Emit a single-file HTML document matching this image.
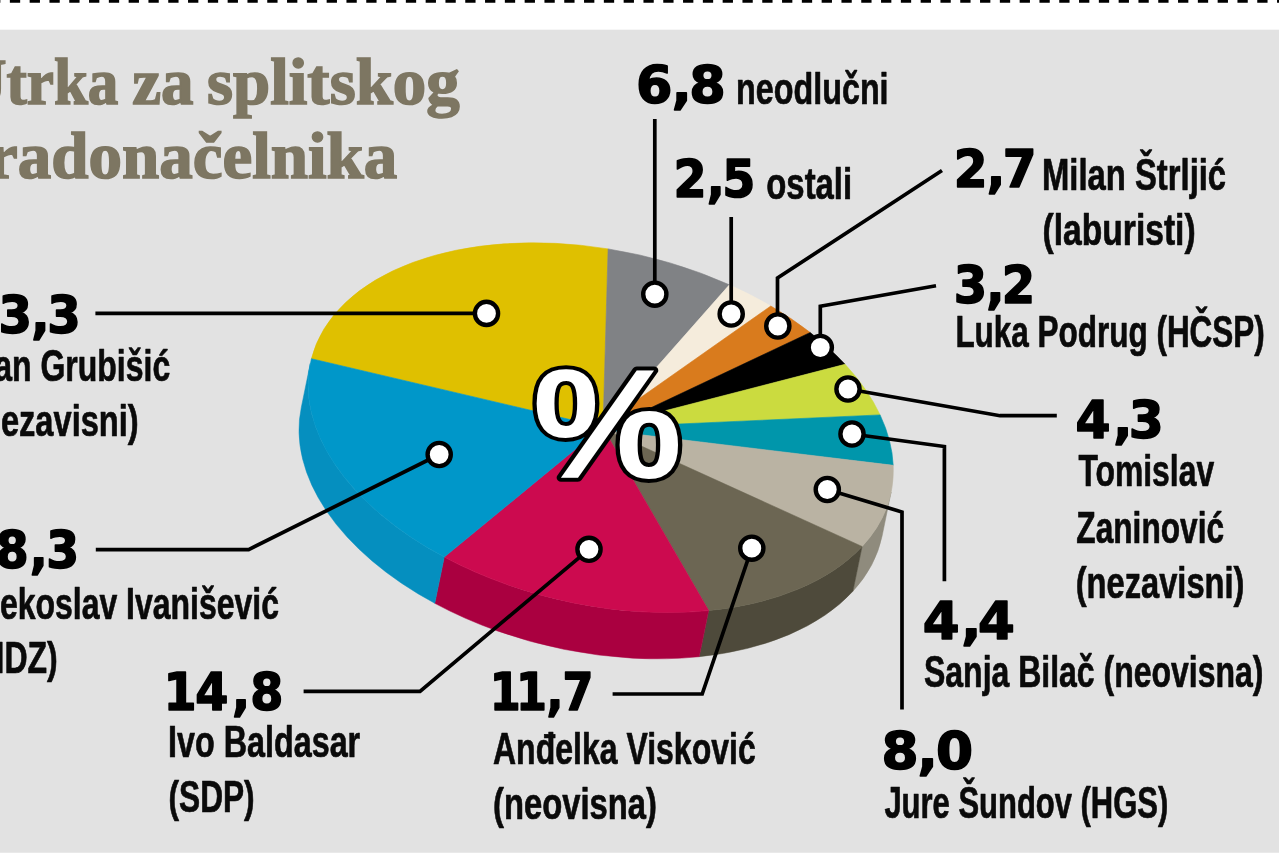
<!DOCTYPE html>
<html lang="hr">
<head>
<meta charset="utf-8">
<title>Utrka za splitskog gradonačelnika</title>
<style>
html,body{margin:0;padding:0;background:#fff;}
body{width:1279px;height:853px;overflow:hidden;}
svg{display:block;}
.ttl{font-family:"Liberation Serif",serif;font-weight:bold;font-size:65px;fill:#7d7662;stroke:#7d7662;stroke-width:1.6px;}
.lbl{font-family:"Liberation Sans",sans-serif;font-weight:bold;font-size:43.5px;fill:#0a0a0a;stroke:#0a0a0a;stroke-width:0.7px;stroke-linejoin:round;}
.num{font-family:"DejaVu Sans","Liberation Sans",sans-serif;font-weight:bold;font-size:51.8px;fill:#000;stroke:#000;stroke-width:1.6px;stroke-linejoin:round;}
.pct{font-family:"Liberation Sans",sans-serif;font-weight:bold;font-size:155px;fill:#fff;stroke:#000;stroke-width:8px;paint-order:stroke fill;stroke-linejoin:round;}

</style>
</head>
<body>
<svg width="1279" height="853" viewBox="0 0 1279 853">
<rect x="0" y="0" width="1279" height="853" fill="#fff"/>
<rect x="0" y="29.7" width="1279" height="823.3" fill="#e2e2e2"/>
<rect x="0" y="852.2" width="1279" height="1" fill="#ebebeb"/>
<line x1="-9.95" y1="1.3" x2="1284" y2="1.3" stroke="#000" stroke-width="2.8" stroke-dasharray="10.3 9.5"/>
<g id="pie">
<path d="M891.1,492.0 A297.4,177.0 12.9 0 1 862.1,546.5 L852.9,591.3 A297.4,179.5 12.9 0 0 882.1,536.0 Z" fill="#8f8b7d" stroke="#8f8b7d" stroke-width="0.5"/>
<path d="M862.1,546.5 A297.4,177.0 12.9 0 1 708.7,610.6 L699.2,656.7 A297.4,179.5 12.9 0 0 852.9,591.3 Z" fill="#4e4a3b" stroke="#4e4a3b" stroke-width="0.5"/>
<path d="M708.7,610.6 A297.4,177.0 12.9 0 1 444.3,557.1 L434.8,603.3 A297.4,179.5 12.9 0 0 699.2,656.7 Z" fill="#aa0040" stroke="#aa0040" stroke-width="0.5"/>
<path d="M444.3,557.1 A297.4,177.0 12.9 0 1 310.3,363.4 L301.3,407.4 A297.4,179.5 12.9 0 0 434.8,603.3 Z" fill="#058fbf" stroke="#058fbf" stroke-width="0.5"/>
<circle cx="605.0" cy="428.0" r="6" fill="#6c6653"/>
<path d="M605.0,428.0 L606.0,428.0 L311.4,358.7 A297.4,177.0 12.9 0 1 608.1,248.9 L603.0,428.0 Z" fill="#dfc000" stroke="#dfc000" stroke-width="0.6"/>
<path d="M605.0,428.0 L603.0,428.0 L608.1,248.9 A297.4,177.0 12.9 0 1 729.4,284.8 L603.0,428.0 Z" fill="#808285" stroke="#808285" stroke-width="0.6"/>
<path d="M605.0,428.0 L603.0,428.0 L729.4,284.8 A297.4,177.0 12.9 0 1 770.8,306.0 L603.0,424.0 Z" fill="#f5ecdc" stroke="#f5ecdc" stroke-width="0.6"/>
<path d="M605.0,428.0 L603.0,424.0 L770.8,306.0 A297.4,177.0 12.9 0 1 810.2,332.5 L608.0,428.0 Z" fill="#d97b1d" stroke="#d97b1d" stroke-width="0.6"/>
<path d="M605.0,428.0 L608.0,428.0 L810.2,332.5 A297.4,177.0 12.9 0 1 845.1,364.3 L606.0,426.0 Z" fill="#000000" stroke="#000000" stroke-width="0.6"/>
<path d="M605.0,428.0 L606.0,426.0 L845.1,364.3 A297.4,177.0 12.9 0 1 880.1,414.9 L606.0,427.3 Z" fill="#cbdb3f" stroke="#cbdb3f" stroke-width="0.6"/>
<path d="M605.0,428.0 L606.0,427.3 L880.1,414.9 A297.4,177.0 12.9 0 1 893.2,465.3 L606.0,430.5 Z" fill="#0096ab" stroke="#0096ab" stroke-width="0.6"/>
<path d="M605.0,428.0 L606.0,430.5 L893.2,465.3 A297.4,177.0 12.9 0 1 862.1,546.5 L606.0,430.0 Z" fill="#bab3a3" stroke="#bab3a3" stroke-width="0.6"/>
<path d="M605.0,428.0 L606.0,430.0 L862.1,546.5 A297.4,177.0 12.9 0 1 708.7,610.6 L603.0,428.0 Z" fill="#6c6653" stroke="#6c6653" stroke-width="0.6"/>
<path d="M605.0,428.0 L603.0,428.0 L708.7,610.6 A297.4,177.0 12.9 0 1 444.3,557.1 L603.0,426.5 Z" fill="#cc0a4f" stroke="#cc0a4f" stroke-width="0.6"/>
<path d="M605.0,428.0 L603.0,426.5 L444.3,557.1 A297.4,177.0 12.9 0 1 311.4,358.7 L606.0,428.0 Z" fill="#0097c9" stroke="#0097c9" stroke-width="0.6"/>
</g>
<g id="leaders">
<polyline points="95.4,313.4 486.5,313.4" fill="none" stroke="#000" stroke-width="3.7" stroke-linejoin="miter"/>
<polyline points="95.8,549.6 248.6,549.6 439.2,454.5" fill="none" stroke="#000" stroke-width="3.7" stroke-linejoin="miter"/>
<polyline points="303.6,691.3 420.0,691.3 589.0,549.3" fill="none" stroke="#000" stroke-width="3.7" stroke-linejoin="miter"/>
<polyline points="612.6,694.0 702.2,694.0 751.8,548.2" fill="none" stroke="#000" stroke-width="3.7" stroke-linejoin="miter"/>
<polyline points="654.8,119.0 654.8,294.2" fill="none" stroke="#000" stroke-width="3.7" stroke-linejoin="miter"/>
<polyline points="731.2,217.0 731.2,314.0" fill="none" stroke="#000" stroke-width="3.7" stroke-linejoin="miter"/>
<polyline points="942.0,170.5 777.5,278.0 777.5,326.0" fill="none" stroke="#000" stroke-width="3.7" stroke-linejoin="miter"/>
<polyline points="936.0,285.7 820.3,306.3 820.3,347.5" fill="none" stroke="#000" stroke-width="3.7" stroke-linejoin="miter"/>
<polyline points="1056.8,415.7 1000.0,415.7 848.0,389.0" fill="none" stroke="#000" stroke-width="3.7" stroke-linejoin="miter"/>
<polyline points="944.4,581.3 944.4,446.5 852.0,434.0" fill="none" stroke="#000" stroke-width="3.7" stroke-linejoin="miter"/>
<polyline points="902.0,709.4 902.0,512.0 827.3,489.5" fill="none" stroke="#000" stroke-width="3.7" stroke-linejoin="miter"/>
<circle cx="486.5" cy="313.4" r="11.6" fill="#fff" stroke="#000" stroke-width="4.4"/>
<circle cx="439.2" cy="454.5" r="11.6" fill="#fff" stroke="#000" stroke-width="4.4"/>
<circle cx="589.0" cy="549.3" r="11.6" fill="#fff" stroke="#000" stroke-width="4.4"/>
<circle cx="751.8" cy="548.2" r="11.6" fill="#fff" stroke="#000" stroke-width="4.4"/>
<circle cx="654.8" cy="294.2" r="11.6" fill="#fff" stroke="#000" stroke-width="4.4"/>
<circle cx="731.2" cy="314.0" r="11.6" fill="#fff" stroke="#000" stroke-width="4.4"/>
<circle cx="777.8" cy="326.0" r="11.6" fill="#fff" stroke="#000" stroke-width="4.4"/>
<circle cx="820.3" cy="347.5" r="11.6" fill="#fff" stroke="#000" stroke-width="4.4"/>
<circle cx="848.0" cy="389.0" r="11.6" fill="#fff" stroke="#000" stroke-width="4.4"/>
<circle cx="852.0" cy="434.0" r="11.6" fill="#fff" stroke="#000" stroke-width="4.4"/>
<circle cx="827.3" cy="489.5" r="11.6" fill="#fff" stroke="#000" stroke-width="4.4"/>
</g>
<g id="labels">
<text class="ttl" y="104.0"><tspan x="-37.7" textLength="156.1" lengthAdjust="spacingAndGlyphs">Utrka</tspan> <tspan x="132.3" textLength="61.3" lengthAdjust="spacingAndGlyphs">za</tspan> <tspan x="207.0" textLength="252.7" lengthAdjust="spacingAndGlyphs">splitskog</tspan></text>
<text class="ttl" y="177.8"><tspan x="-45.4" textLength="442.7" lengthAdjust="spacingAndGlyphs">gradonačelnika</tspan></text>
<text class="lbl" x="736.1" y="103.6" textLength="152.5" lengthAdjust="spacingAndGlyphs">neodlučni</text>
<text class="lbl" x="766.3" y="198.8" textLength="85.8" lengthAdjust="spacingAndGlyphs">ostali</text>
<text class="lbl" x="1042.0" y="189.6" textLength="184.1" lengthAdjust="spacingAndGlyphs">Milan Štrljić</text>
<text class="lbl" x="1042.6" y="245.1" textLength="153.0" lengthAdjust="spacingAndGlyphs">(laburisti)</text>
<text class="lbl" x="955.4" y="347.3" textLength="309.4" lengthAdjust="spacingAndGlyphs">Luka Podrug (HČSP)</text>
<text class="lbl" x="1078.4" y="486.3" textLength="135.7" lengthAdjust="spacingAndGlyphs">Tomislav</text>
<text class="lbl" x="1076.3" y="542.6" textLength="147.8" lengthAdjust="spacingAndGlyphs">Zaninović</text>
<text class="lbl" x="1075.7" y="598.0" textLength="168.8" lengthAdjust="spacingAndGlyphs">(nezavisni)</text>
<text class="lbl" x="924.0" y="687.4" textLength="339.5" lengthAdjust="spacingAndGlyphs">Sanja Bilač (neovisna)</text>
<text class="lbl" x="884.4" y="817.8" textLength="283.9" lengthAdjust="spacingAndGlyphs">Jure Šundov (HGS)</text>
<text class="lbl" x="493.0" y="763.8" textLength="262.7" lengthAdjust="spacingAndGlyphs">Anđelka Visković</text>
<text class="lbl" x="493.1" y="818.9" textLength="163.7" lengthAdjust="spacingAndGlyphs">(neovisna)</text>
<text class="lbl" x="168.1" y="757.3" textLength="192.1" lengthAdjust="spacingAndGlyphs">Ivo Baldasar</text>
<text class="lbl" x="168.5" y="812.4" textLength="86.1" lengthAdjust="spacingAndGlyphs">(SDP)</text>
<text class="lbl" x="-32.4" y="381.0" textLength="202.6" lengthAdjust="spacingAndGlyphs">Ivan Grubišić</text>
<text class="lbl" x="-29.9" y="436.4" textLength="168.6" lengthAdjust="spacingAndGlyphs">(nezavisni)</text>
<text class="lbl" x="-30.3" y="618.5" textLength="309.3" lengthAdjust="spacingAndGlyphs">Vjekoslav Ivanišević</text>
<text class="lbl" x="-29.3" y="672.8" textLength="87.0" lengthAdjust="spacingAndGlyphs">(HDZ)</text>
<text class="num" transform="translate(635.90,103.2) scale(1.0123,1)" x="0.00 35.33 52.64" y="0">6,8</text>
<text class="num" transform="translate(673.53,197.4) scale(0.9190,1)" x="0.00 36.28 52.93" y="0">2,5</text>
<text class="num" transform="translate(953.74,187.4) scale(0.9380,1)" x="0.00 35.15 52.37" y="0">2,7</text>
<text class="num" transform="translate(953.82,302.9) scale(0.9275,1)" x="0.00 34.96 51.75" y="0">3,2</text>
<text class="num" transform="translate(1075.46,438.2) scale(0.9720,1)" x="0.00 38.89 54.92" y="0">4,3</text>
<text class="num" transform="translate(922.86,638.9) scale(1.0224,1)" x="0.00 37.48 53.84" y="0">4,4</text>
<text class="num" transform="translate(881.38,769.4) scale(1.0295,1)" x="0.00 35.15 53.15" y="0">8,0</text>
<text class="num" transform="translate(489.78,709.9) scale(0.8600,1)" x="0.00 30.58 65.93 84.49" y="0">11,7</text>
<text class="num" transform="translate(163.43,709.7) scale(0.9200,1)" x="0.00 34.48 74.49 94.26" y="0">14,8</text>
<text class="num" transform="translate(-33.14,333.4) scale(0.9307,1)" x="0.00 34.11 69.31 86.44" y="0">33,3</text>
<text class="num" transform="translate(-36.26,567.9) scale(0.9141,1)" x="0.00 35.14 72.33 90.27" y="0">18,3</text>
</g>
<text class="pct" x="532.5" y="477.5" textLength="150.0" lengthAdjust="spacingAndGlyphs">%</text>
</svg>
</body>
</html>
